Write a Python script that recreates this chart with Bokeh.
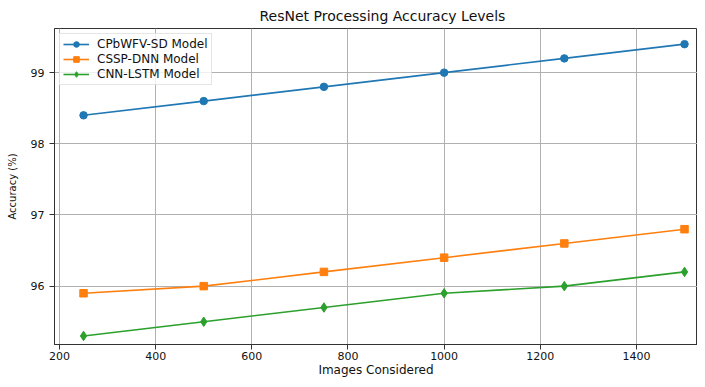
from bokeh.plotting import figure
from bokeh.models import Range1d, FixedTicker, Legend, LegendItem
from bokeh.embed import file_html
from bokeh.resources import INLINE

images = [250, 500, 750, 1000, 1250, 1500]
cpbwfv_sd = [98.4, 98.6, 98.8, 99.0, 99.2, 99.4]
cssp_dnn = [95.9, 96.0, 96.2, 96.4, 96.6, 96.8]
cnn_lstm = [95.3, 95.5, 95.7, 95.9, 96.0, 96.2]
x_ticks = [200, 400, 600, 800, 1000, 1200, 1400]
y_ticks = [96, 97, 98, 99]

FONT = "DejaVu Sans"
TXT = "#111111"

p = figure(width=697, height=379, output_backend="svg", toolbar_location=None,
           x_range=Range1d(189.6, 1527), y_range=Range1d(95.18, 99.62),
           min_border_left=54, min_border_right=0, min_border_top=27, min_border_bottom=30)

p.title.text = "ResNet Processing Accuracy Levels"
p.title.align = "left"
p.title.offset = 205
p.title.text_font = FONT
p.title.text_font_size = "14px"
p.title.text_font_style = "normal"
p.title.text_color = TXT

for ax in (p.xaxis[0], p.yaxis[0]):
    ax.major_label_text_font = FONT
    ax.major_label_text_font_size = "11px"
    ax.major_label_text_color = TXT
    ax.axis_label_text_font = FONT
    ax.axis_label_text_font_style = "normal"
    ax.axis_label_text_color = TXT
    ax.minor_tick_line_color = None
    ax.major_tick_out = 5
    ax.major_tick_in = 0
    ax.axis_line_color = "#333333"
    ax.major_tick_line_color = "#333333"

p.xaxis.ticker = FixedTicker(ticks=x_ticks)
p.yaxis.ticker = FixedTicker(ticks=y_ticks)
p.xaxis.axis_label = "Images Considered"
p.yaxis.axis_label = "Accuracy (%)"
p.xaxis.axis_label_text_font_size = "12px"
p.yaxis.axis_label_text_font_size = "10px"
p.xaxis.major_label_standoff = 2
p.xaxis.axis_label_standoff = 0
p.yaxis.major_label_standoff = 5
p.yaxis.axis_label_standoff = 10

p.xgrid.ticker = FixedTicker(ticks=x_ticks)
p.ygrid.ticker = FixedTicker(ticks=y_ticks)
p.grid.grid_line_color = "#b0b0b0"
p.grid.grid_line_width = 1
p.outline_line_color = "#333333"

items = []
specs = [
    ("CPbWFV-SD Model", cpbwfv_sd, "#1f77b4", "circle", 7.5),
    ("CSSP-DNN Model", cssp_dnn, "#ff7f0e", "square", 7.5),
    ("CNN-LSTM Model", cnn_lstm, "#2ca02c", "diamond", 9.5),
]
for label, ys, color, marker, size in specs:
    l = p.line(images, ys, line_color=color, line_width=1.6)
    s = p.scatter(images, ys, marker=marker, size=size, fill_color=color, line_color=color)
    items.append(LegendItem(label=label, renderers=[l, s]))

legend = Legend(items=items, location="top_left")
legend.label_text_font = FONT
legend.label_text_font_size = "12px"
legend.label_text_color = TXT
legend.glyph_width = 26
legend.glyph_height = 14
legend.label_height = 14
legend.label_standoff = 8
legend.spacing = 1
legend.padding = 3
legend.margin = 5
legend.border_line_color = "#cccccc"
legend.background_fill_alpha = 0.8
p.add_layout(legend)

open("out.html", "w").write(file_html(p, INLINE))
